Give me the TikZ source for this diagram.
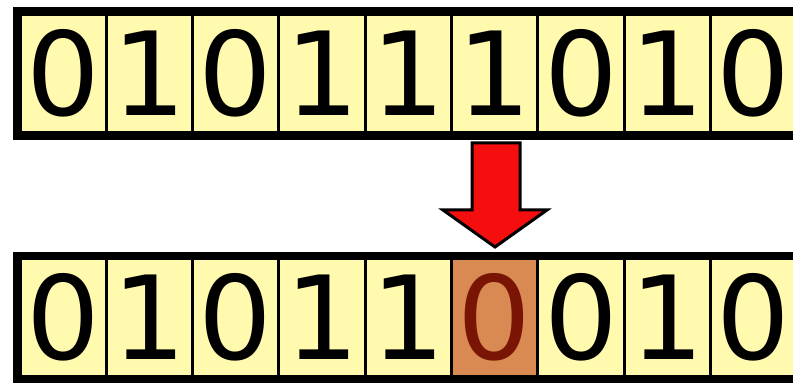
\documentclass[tikz,border=0pt]{standalone}
\usepackage{fontspec}
\setmainfont{DejaVu Sans}
\usetikzlibrary{positioning}
\definecolor{bitfill}{HTML}{FFFAAE}
\definecolor{flipfill}{HTML}{D88A52}
\definecolor{fliptext}{HTML}{7A1404}
\definecolor{arrowred}{HTML}{F40E0E}

\begin{document}
\begin{tikzpicture}[
  x=1pt, y=1pt,
  bit/.style={draw=black, line width=3pt, fill=bitfill, inner sep=0pt,
              minimum width=86.3pt, minimum height=118pt,
              font=\fontsize{116}{116}\selectfont, text=black},
  flipbit/.style={bit, fill=flipfill, text=fliptext},
  frame/.style={draw=black, line width=7.5pt},
  bigarrow/.style={draw=black, line width=3pt, fill=arrowred, line join=miter},
]
\clip (0,0) rectangle (793,386);
\useasboundingbox (0,0) rectangle (793,386);

%% ---- Fila superior: palabra original ----
\foreach \b [count=\i from 0] in {0,1,0,1,1,1,0,1,0}
  \node[bit] (t\i) at (63.15+86.3*\i, 312.5) {\b};
\draw[frame] (17,375) rectangle (820,250);

%% ---- Fila inferior: palabra con un bit invertido ----
\foreach \b [count=\i from 0] in {0,1,0,1,1,0,0,1,0} {
  \ifnum\i=5
    \node[flipbit] (b\i) at (63.15+86.3*\i, 68.5) {\b};
  \else
    \node[bit] (b\i) at (63.15+86.3*\i, 68.5) {\b};
  \fi
}
\draw[frame] (16.5,130.5) rectangle (820,6.5);

%% ---- Flecha de cambio ----
\draw[bigarrow] (472,243) -- (520,243) -- (520,176) -- (547,176)
  -- (495,139) -- (443,176) -- (472,176) -- cycle;

\end{tikzpicture}
\end{document}
